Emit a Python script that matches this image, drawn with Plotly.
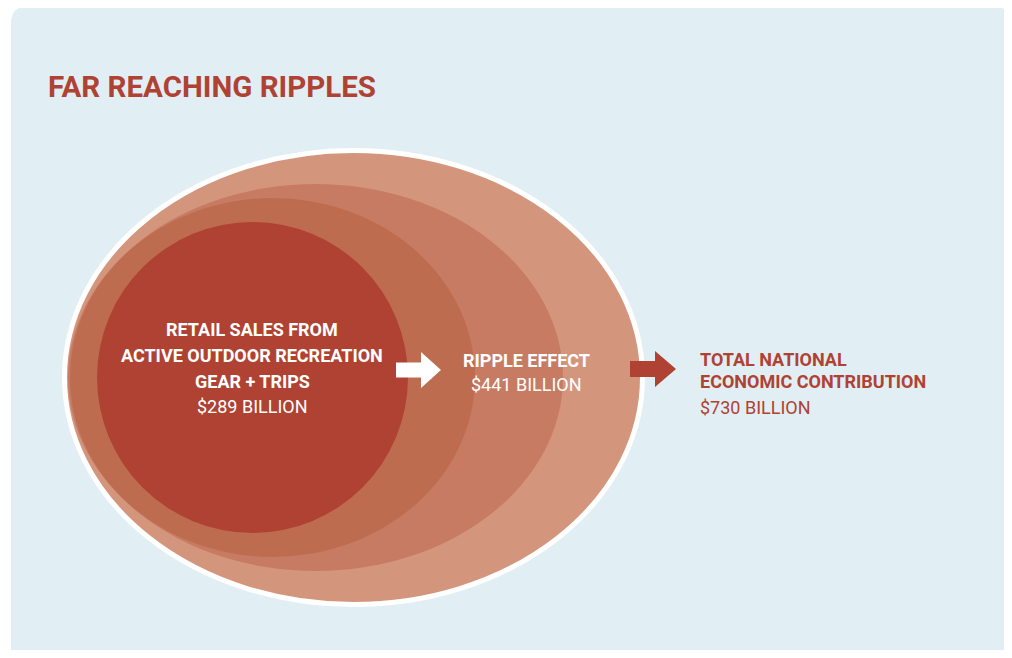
import plotly.graph_objects as go

# ---- data ----
stage_labels = ["RETAIL SALES FROM<br>ACTIVE OUTDOOR RECREATION<br>GEAR + TRIPS", "RIPPLE EFFECT", "TOTAL NATIONAL<br>ECONOMIC CONTRIBUTION"]
stage_values = [289, 441, 730]  # $ billion
title_text = "FAR REACHING RIPPLES"

# ---- style ----
BG = "#E1EEF4"
RED = "#AF4232"
LAYER_COLORS = ["#D3967D", "#C77B62", "#BE6C50", "#AF4232"]
FONT = "Roboto, 'Liberation Sans', sans-serif"

# page is 1012x658; the html body has an 8px margin, so the figure is
# 16px smaller and the axes are offset so that coordinates = page pixels
PAGE_W, PAGE_H, M = 1012, 658, 8
W, H = PAGE_W - 2 * M, PAGE_H - 2 * M

fig = go.Figure()

shapes = []
# rounded background panel
r = 18
x0, x1, y0, y1 = 11, 1010, 6, 680
path = (f"M {x0+r},{y0} L {x1-r},{y0} Q {x1},{y0} {x1},{y0+r} "
        f"L {x1},{y1-r} Q {x1},{y1} {x1-r},{y1} L {x0+r},{y1} Q {x0},{y1} {x0},{y1-r} "
        f"L {x0},{y0+r} Q {x0},{y0} {x0+r},{y0} Z")
shapes.append(dict(type="path", path=path, xref="x", yref="y",
                   fillcolor=BG, line=dict(width=0), layer="below"))

# nested ripples (outer -> inner): (x0, y0, x1, y1)
ellipses = [
    (64.5, 150.5, 642.5, 604.5),
    (68, 184, 563, 571),
    (70, 198, 475, 557),
    (97, 222, 408, 533),
]
for i, (ex0, ey0, ex1, ey1) in enumerate(ellipses):
    shapes.append(dict(type="circle", xref="x", yref="y", x0=ex0, y0=ey0, x1=ex1, y1=ey1,
                       fillcolor=LAYER_COLORS[i],
                       line=dict(width=5 if i == 0 else 0, color="white")))

# arrows
def arrow(xs, xh, xe, yc, shaft, head, color):
    p = (f"M {xs},{yc-shaft/2} L {xh},{yc-shaft/2} L {xh},{yc-head/2} L {xe},{yc} "
         f"L {xh},{yc+head/2} L {xh},{yc+shaft/2} L {xs},{yc+shaft/2} Z")
    return dict(type="path", path=p, xref="x", yref="y", fillcolor=color, line=dict(width=0))

shapes.append(arrow(396, 421, 441, 370, 15, 36, "white"))
shapes.append(arrow(630, 655, 676, 369, 16, 36, RED))

fig.update_layout(shapes=shapes)

ann = []
def txt(x, y, s, size, color, bold=True, xanchor="center"):
    ann.append(dict(x=x, y=y, xref="x", yref="y", text=(f"<b>{s}</b>" if bold else s),
                    showarrow=False, xanchor=xanchor, yanchor="middle",
                    font=dict(family=FONT, size=size, color=color)))

# title
txt(46, 87, title_text, 29.5, RED, xanchor="left")

# inner circle text
lines0 = stage_labels[0].split("<br>")
for k, ln in enumerate(lines0):
    txt(252, 329 + 26 * k, ln, 18, "white")
txt(252, 406, f"${stage_values[0]} BILLION", 18, "white", bold=False)

# ripple effect
txt(526, 360, stage_labels[1], 18, "white")
txt(526, 384, f"${stage_values[1]} BILLION", 18, "white", bold=False)

# total
lines2 = stage_labels[2].split("<br>")
for k, ln in enumerate(lines2):
    txt(698, 359 + 22 * k, ln, 18, RED, xanchor="left")
txt(698, 407, f"${stage_values[2]} BILLION", 18, RED, bold=False, xanchor="left")

fig.update_layout(
    annotations=ann,
    width=W, height=H,
    margin=dict(l=0, r=0, t=0, b=0),
    paper_bgcolor="white", plot_bgcolor="white",
    xaxis=dict(range=[M, M + W], visible=False, fixedrange=True),
    yaxis=dict(range=[M + H, M], visible=False, fixedrange=True),
    showlegend=False,
)

fig.write_html("out.html")
